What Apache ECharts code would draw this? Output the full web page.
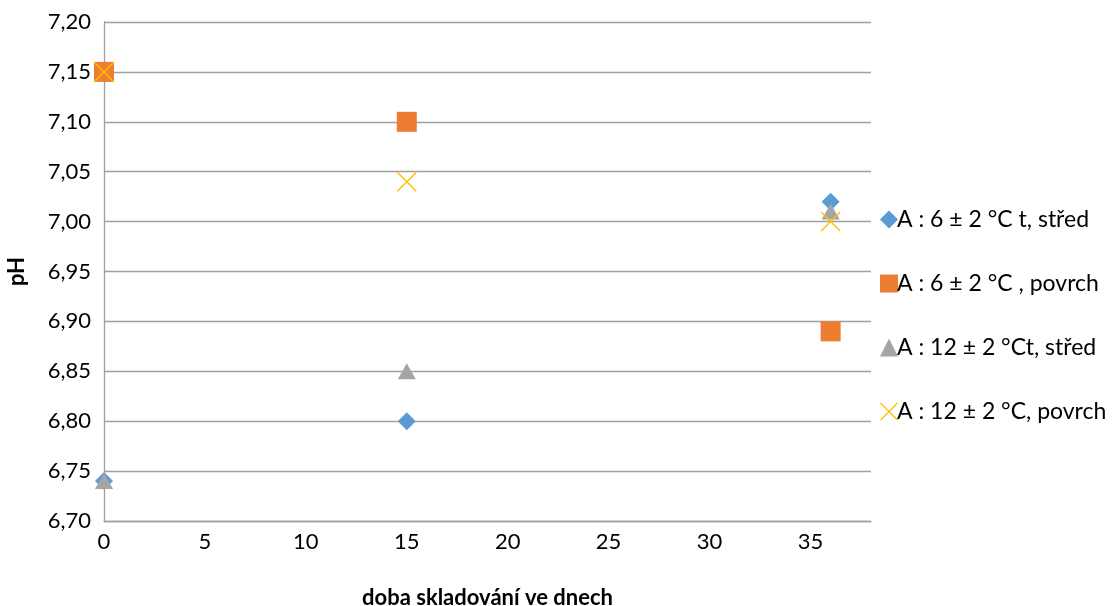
<!DOCTYPE html>
<html>
<head>
<meta charset="utf-8">
<style>
  html, body { margin: 0; padding: 0; background: #fff; }
  #chart { width: 1120px; height: 606px; }
</style>
<script src="https://cdn.jsdelivr.net/npm/echarts@6/dist/echarts.min.js"></script>
</head>
<body>
<div id="chart"></div>
<script>
// storage time in days
const days = [0, 15, 36];

// pH values per sample / temperature / position
const seriesNames = [
  'A : 6 ± 2 °C t, střed',
  'A : 6 ± 2 °C , povrch',
  'A : 12 ± 2 °Ct, střed',
  'A : 12 ± 2 °C, povrch'
];
const ph6Stred    = [6.74, 6.80, 7.02];
const ph6Povrch   = [7.15, 7.10, 6.89];
const ph12Stred   = [6.74, 6.85, 7.01];
const ph12Povrch  = [7.15, 7.04, 7.00];

const xAxisTitle = 'doba skladování ve dnech';
const yAxisTitle = 'pH';

const FONT = 'Lato';
const SIZE = 22;
const crossPath = 'path://M0,1 L1,0 L20,19 L19,20 Z M19,0 L20,1 L1,20 L0,19 Z';

function pairs(vals) {
  return days.map((d, i) => [d, vals[i]]);
}

const chart = echarts.init(document.getElementById('chart'), null, { renderer: 'canvas' });

chart.setOption({
  backgroundColor: '#ffffff',
  animation: false,
  textStyle: { fontFamily: FONT },
  grid: { left: 104, top: 22, right: 249, bottom: 85, containLabel: false, outerBoundsMode: 'none' },
  legend: {
    orient: 'vertical',
    left: 875,
    top: 203,
    itemGap: 41,
    itemWidth: 18,
    itemHeight: 18,
    textStyle: { fontFamily: FONT, fontSize: 23, color: '#000', padding: [0, 0, 0, -6] },
    data: seriesNames.map(n => ({ name: n }))
  },
  xAxis: {
    type: 'value',
    min: 0,
    max: 38,
    interval: 5,
    name: xAxisTitle,
    nameLocation: 'middle',
    nameGap: 66,
    nameTextStyle: { fontFamily: FONT, fontSize: SIZE, fontWeight: 'bold', color: '#000' },
    axisLine: { show: true, lineStyle: { color: '#a0a0a0', width: 1.3 } },
    axisTick: { show: false },
    splitLine: { show: false },
    axisLabel: {
      fontFamily: FONT, fontSize: SIZE, color: '#000', margin: 10,
      showMaxLabel: false,
      formatter: v => (v % 5 === 0 ? String(v) : '')
    }
  },
  yAxis: {
    type: 'value',
    min: 6.70,
    max: 7.20,
    interval: 0.05,
    name: yAxisTitle,
    nameLocation: 'middle',
    nameGap: 76,
    nameRotate: 90,
    nameTextStyle: { fontFamily: FONT, fontSize: SIZE, fontWeight: 'bold', color: '#000' },
    axisLine: { show: true, lineStyle: { color: '#a0a0a0', width: 1.3 } },
    axisTick: { show: false },
    splitLine: { show: true, lineStyle: { color: '#a0a0a0', width: 1.3 } },
    axisLabel: {
      fontFamily: FONT, fontSize: SIZE, color: '#000', margin: 13,
      formatter: v => v.toFixed(2).replace('.', ',')
    }
  },
  series: [
    {
      name: seriesNames[0], type: 'scatter', data: pairs(ph6Stred),
      symbol: 'diamond', symbolSize: [18, 18],
      itemStyle: { color: '#5B9BD5', opacity: 1 }, z: 2
    },
    {
      name: seriesNames[1], type: 'scatter', data: pairs(ph6Povrch),
      symbol: 'rect', symbolSize: 20,
      itemStyle: { color: '#ED7D31', opacity: 1 }, z: 2
    },
    {
      name: seriesNames[2], type: 'scatter', data: pairs(ph12Stred),
      symbol: 'triangle', symbolSize: [18, 16],
      itemStyle: { color: '#A5A5A5', opacity: 1 }, z: 3
    },
    {
      name: seriesNames[3], type: 'scatter', data: pairs(ph12Povrch),
      symbol: crossPath, symbolSize: 20,
      itemStyle: { color: '#FFC000', opacity: 1 }, z: 4
    }
  ]
});
</script>
</body>
</html>
